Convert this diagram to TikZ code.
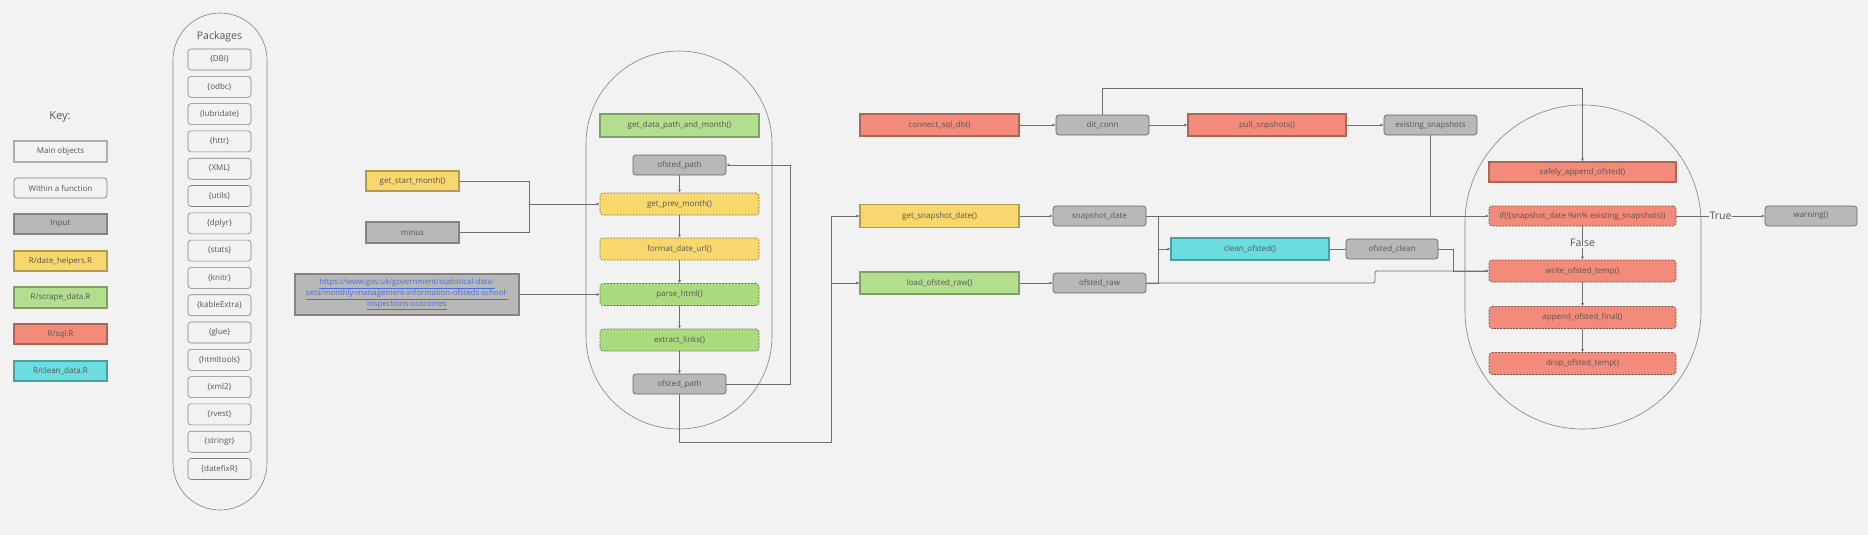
\documentclass[tikz,border=0pt]{standalone}
\usepackage{fontspec}
\setmainfont{Open Sans}
\usetikzlibrary{arrows.meta}

\definecolor{bg}{HTML}{F2F2F2}
\definecolor{inputgray}{HTML}{B8B8B8}
\definecolor{dateyellow}{HTML}{F8D76C}
\definecolor{scrapegreen}{HTML}{B3DE8E}
\definecolor{fngreen}{HTML}{ABDB7C}
\definecolor{sqlred}{HTML}{F28B79}
\definecolor{cleancyan}{HTML}{6BDCE0}
\definecolor{linegray}{HTML}{6E6E6E}
\definecolor{txtgray}{HTML}{555555}
\definecolor{urlblue}{HTML}{4A6EE0}

\tikzset{
    box/.style = {rectangle, align=center, inner sep=1pt, text=txtgray,
        font=\fontsize{8}{9.5}\selectfont, minimum height=21pt},
    mainbox/.style = {box, fill=#1, draw=#1!72!black, line width=1.1pt},
    fnbox/.style = {box, fill=#1, draw=#1!55!black, dash pattern=on 2pt off 1.2pt,
        rounded corners=3pt, line width=0.6pt},
    objbox/.style = {box, fill=inputgray, draw=inputgray!55!black,
        rounded corners=3pt, line width=0.7pt, minimum height=20pt},
    pkgbox/.style = {box, draw=gray, rounded corners=3pt, line width=0.6pt,
        minimum width=63pt},
    group/.style = {draw=gray, line width=0.6pt, inner sep=0pt},
    bigtext/.style = {text=txtgray, font=\fontsize{10.5}{12}\selectfont},
    link/.style = {draw=linegray, line width=0.8pt},
    arr/.style = {link, -{Latex[length=3pt,width=3pt]}},
}

\begin{document}
\begin{tikzpicture}[x=1pt, y=-1pt]
    \fill[bg] (0,0) rectangle (1868,535);
    \useasboundingbox (0,0) rectangle (1868,535);

    \node[bigtext, font=\fontsize{11}{13}\selectfont] (keytitle) at (60,117) {Key:};
    \node[mainbox=bg, minimum width=93pt] (keymain) at (60.5,151.5) {Main objects};
    \node[box, draw=gray, rounded corners=3pt, line width=0.7pt, minimum width=93pt, minimum height=20pt] (keyfn) at (60.5,188) {Within a function};
    \node[mainbox=inputgray, minimum width=93pt, minimum height=20pt] (keyinput) at (60.5,224) {Input};
    \node[mainbox=dateyellow, minimum width=93pt, minimum height=20pt] (keydate) at (60.5,261) {R/date\_helpers.R};
    \node[mainbox=scrapegreen, minimum width=93pt] (keyscrape) at (60.5,297.5) {R/scrape\_data.R};
    \node[mainbox=sqlred, minimum width=93pt, minimum height=20pt] (keysql) at (60.5,334) {R/sql.R};
    \node[mainbox=cleancyan, minimum width=93pt, minimum height=20pt] (keyclean) at (60.5,371) {R/clean\_data.R};

    \node[group, minimum width=94pt, minimum height=497pt, rounded corners=46.9pt] (pkggroup) at (220,261.5) {};
    \node[bigtext] (pkgtitle) at (219.5,37) {Packages};
    \foreach \pkg [count=\i from 0] in {DBI, odbc, lubridate, httr, XML, utils, dplyr, stats, knitr, kableExtra, glue, htmltools, xml2, rvest, stringr, datefixR}
        \node[pkgbox] (pkg\i) at (219.5,59.5+27.3*\i) {\{\pkg\}};

    \node[mainbox=dateyellow, minimum width=93pt, minimum height=20pt] (startmonth) at (412.5,181) {get\_start\_month()};
    \node[mainbox=inputgray, minimum width=93pt] (minus) at (412.5,232.5) {minus};
    \node[mainbox=inputgray, minimum width=224pt, minimum height=41pt, text=urlblue, font=\fontsize{7.8}{10.7}\selectfont] (url) at (407,294.5)
        {\underline{https://www.gov.uk/government/statistical-data-}\\\underline{sets/monthly-management-information-ofsteds-school-}\\\underline{inspections-outcomes}};

    \node[group, minimum width=186pt, minimum height=378pt, rounded corners=92.9pt] (pathgroup) at (679,240) {};
    \node[mainbox=scrapegreen, minimum width=159pt, minimum height=23pt] (datapath) at (679.5,125.5) {get\_data\_path\_and\_month()};
    \node[objbox, minimum width=93pt] (pathin) at (679.5,165) {ofsted\_path};
    \node[fnbox=dateyellow, minimum width=159pt, minimum height=22pt] (prevmonth) at (679.5,204) {get\_prev\_month()};
    \node[fnbox=dateyellow, minimum width=159pt, minimum height=22pt] (formaturl) at (679.5,249) {format\_date\_url()};
    \node[fnbox=fngreen, minimum width=159pt, minimum height=22pt] (parsehtml) at (679.5,294.5) {parse\_html()};
    \node[fnbox=fngreen, minimum width=159pt, minimum height=22pt] (extractlinks) at (679.5,340) {extract\_links()};
    \node[objbox, minimum width=93pt] (pathout) at (679.5,384) {ofsted\_path};

    \node[mainbox=sqlred, minimum width=159pt, minimum height=22pt] (connectdb) at (939.5,125) {connect\_sql\_db()};
    \node[objbox, minimum width=93pt] (ditconn) at (1102.5,125) {dit\_conn};
    \node[mainbox=sqlred, minimum width=158pt, minimum height=22pt] (pullsnap) at (1267,125) {pull\_snpshots()};
    \node[objbox, minimum width=93pt] (existsnap) at (1430.5,125) {existing\_snapshots};
    \node[mainbox=dateyellow, minimum width=159pt, minimum height=23pt] (getsnap) at (939.5,216) {get\_snapshot\_date()};
    \node[objbox, minimum width=93pt] (snapdate) at (1099.5,216) {snapshot\_date};
    \node[mainbox=scrapegreen, minimum width=159pt, minimum height=22pt] (loadraw) at (939.5,283) {load\_ofsted\_raw()};
    \node[objbox, minimum width=93pt] (ofstedraw) at (1099.5,283) {ofsted\_raw};
    \node[mainbox=cleancyan, minimum width=158pt, minimum height=22pt] (cleanofsted) at (1250,249) {clean\_ofsted()};
    \node[objbox, minimum width=92pt] (ofstedclean) at (1392,249) {ofsted\_clean};

    \node[group, minimum width=236pt, minimum height=324pt, rounded corners=117.9pt] (appendgroup) at (1583,267) {};
    \node[mainbox=sqlred, minimum width=187pt, minimum height=20pt] (safelyappend) at (1582.5,172) {safely\_append\_ofsted()};
    \node[fnbox=sqlred, minimum width=187pt, minimum height=20pt] (ifbox) at (1582.5,216) {if(!(snapshot\_date \%in\% existing\_snapshots))};
    \node[fnbox=sqlred, minimum width=187pt, minimum height=22pt] (writetemp) at (1582.5,271) {write\_ofsted\_temp()};
    \node[fnbox=sqlred, minimum width=187pt, minimum height=22pt] (appendfinal) at (1582.5,317.5) {append\_ofsted\_final()};
    \node[fnbox=sqlred, minimum width=187pt, minimum height=22pt] (droptemp) at (1582.5,363.5) {drop\_ofsted\_temp()};
    \node[objbox, minimum width=92pt] (warning) at (1811,216) {warning()};

    \coordinate (monthjoin) at (529,204);
    \draw[link] (startmonth.east) -| (monthjoin);
    \draw[link] (minus.east) -| (monthjoin);
    \draw[arr] (monthjoin) -- (prevmonth.west);
    \draw[arr] (url.east) -- (parsehtml.west);

    \foreach \a/\b in {pathin/prevmonth, prevmonth/formaturl, formaturl/parsehtml, parsehtml/extractlinks, extractlinks/pathout}
        \draw[arr] (\a) -- (\b);
    \coordinate (loopright) at (790,384);
    \draw[arr] (pathout.east) -- (loopright) |- (pathin.east);

    \coordinate (busbottom) at (831,442);
    \coordinate (busraw) at (831,283);
    \draw[arr] (pathout.south) |- (busbottom) |- (getsnap.west);
    \draw[arr] (busraw) -- (loadraw.west);

    \draw[arr] (connectdb) -- (ditconn);
    \draw[arr] (ditconn) -- (pullsnap);
    \draw[arr] (pullsnap) -- (existsnap);
    \draw[arr] (getsnap) -- (snapdate);
    \draw[arr] (loadraw) -- (ofstedraw);

    \coordinate (connup) at (1102.5,88);
    \draw[arr] (ditconn.north) -- (connup) -| (safelyappend.north);

    \coordinate (snapdown) at (1430.5,216);
    \draw[link] (existsnap.south) -- (snapdown);
    \draw[arr] (snapdate.east) -- (ifbox.west);

    \coordinate (cleanjoin) at (1158,249);
    \draw[link] (snapdate.east) -| (cleanjoin);
    \draw[link] (ofstedraw.east) -| (cleanjoin);
    \draw[arr] (cleanjoin) -- (cleanofsted.west);
    \draw[link] (cleanofsted) -- (ofstedclean);

    \coordinate (cleanturn) at (1453,249);
    \draw[arr] (ofstedclean.east) -- (cleanturn) |- (writetemp.west);
    \coordinate (rawturn) at (1375,283);
    \draw[arr, rounded corners=2pt] (ofstedraw.east) -- (rawturn) |- (writetemp.west);

    \draw[arr] (ifbox) -- node[bigtext, fill=bg, inner sep=1pt] (falselabel) {False} (writetemp);
    \draw[arr] (ifbox) -- node[bigtext, fill=bg, inner sep=1pt] (truelabel) {True} (warning);
    \draw[arr] (writetemp) -- (appendfinal);
    \draw[arr] (appendfinal) -- (droptemp);
\end{tikzpicture}
\end{document}
